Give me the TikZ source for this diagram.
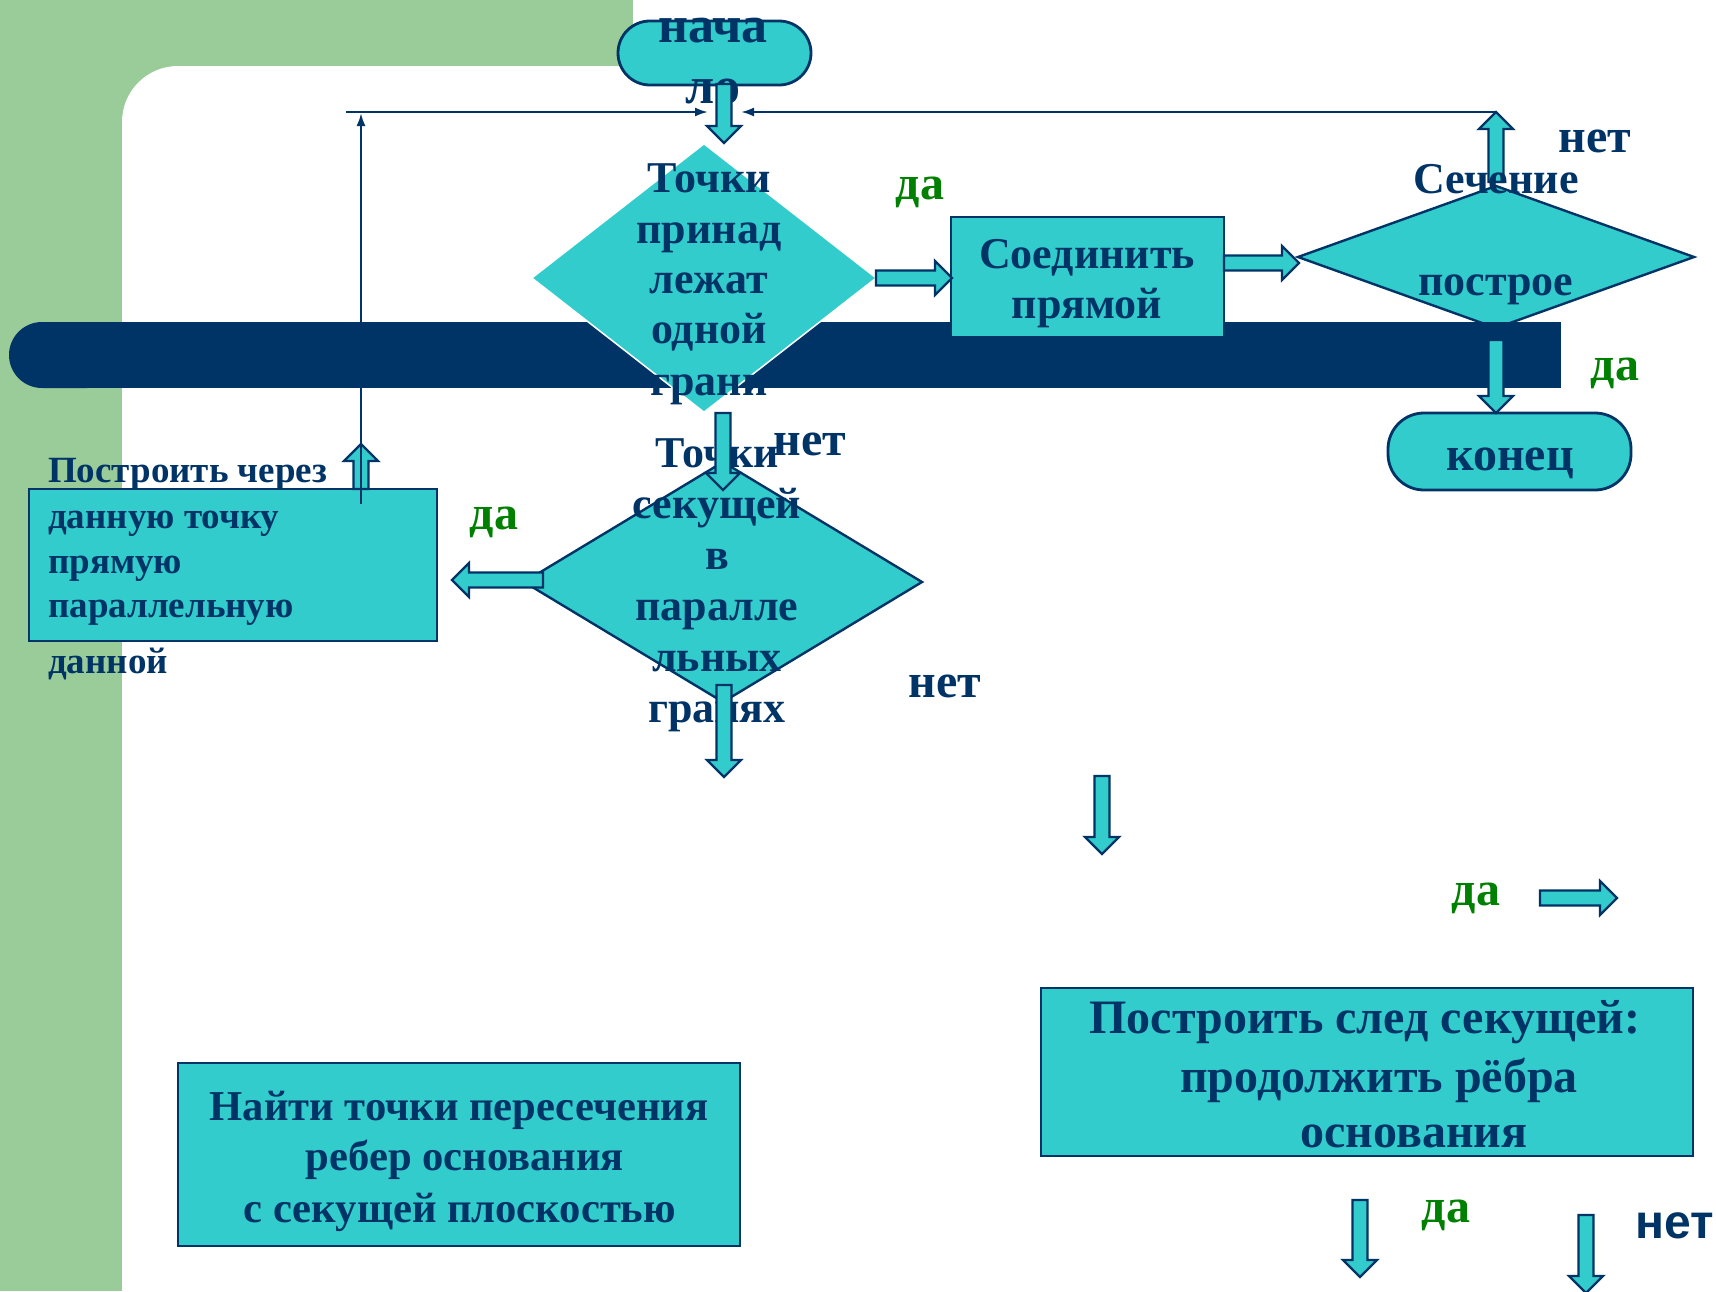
\documentclass[tikz,border=0pt]{standalone}
\usepackage{fontspec}
\setmainfont{Liberation Serif}
\newfontfamily\sansfam{Liberation Sans}
\usetikzlibrary{shapes.geometric,arrows.meta,calc}
\definecolor{turq}{HTML}{33CCCC}
\definecolor{navy}{HTML}{003366}
\definecolor{bggreen}{HTML}{99CC99}
\definecolor{lblgreen}{HTML}{008000}
\newcommand{\blkdown}[2]{\draw[blk] let \p1=(#1),\p2=(#2) in (\x1-7.5pt,\y1) -- (\x1-7.5pt,\y2+17pt) -- (\x1-17pt,\y2+17pt) -- (\x1,\y2) -- (\x1+17pt,\y2+17pt) -- (\x1+7.5pt,\y2+17pt) -- (\x1+7.5pt,\y1) -- cycle;}
\newcommand{\blkup}[2]{\draw[blk] let \p1=(#1),\p2=(#2) in (\x1-7.5pt,\y1) -- (\x1-7.5pt,\y2-17pt) -- (\x1-17pt,\y2-17pt) -- (\x1,\y2) -- (\x1+17pt,\y2-17pt) -- (\x1+7.5pt,\y2-17pt) -- (\x1+7.5pt,\y1) -- cycle;}
\newcommand{\blkright}[2]{\draw[blk] let \p1=(#1),\p2=(#2) in (\x1,\y1-7.5pt) -- (\x2-17pt,\y1-7.5pt) -- (\x2-17pt,\y1-17pt) -- (\x2,\y1) -- (\x2-17pt,\y1+17pt) -- (\x2-17pt,\y1+7.5pt) -- (\x1,\y1+7.5pt) -- cycle;}
\newcommand{\blkleft}[2]{\draw[blk] let \p1=(#1),\p2=(#2) in (\x1,\y1-7.5pt) -- (\x2+17pt,\y1-7.5pt) -- (\x2+17pt,\y1-17pt) -- (\x2,\y1) -- (\x2+17pt,\y1+17pt) -- (\x2+17pt,\y1+7.5pt) -- (\x1,\y1+7.5pt) -- cycle;}
\tikzset{
  blk/.style={fill=turq, draw=navy, line width=2.2pt, line join=miter},
  shp/.style={fill=turq, draw=navy, line width=2.8pt, inner sep=0pt, outer sep=0pt},
  txt/.style={text=navy, inner sep=0pt, anchor=base, font=\bfseries\fontsize{44pt}{50pt}\selectfont},
  txtmid/.style={text=navy, inner sep=0pt, anchor=base, font=\bfseries\fontsize{42.6pt}{50pt}\selectfont},
  txtsmall/.style={text=navy, inner sep=0pt, anchor=base west, font=\bfseries\fontsize{37pt}{44pt}\selectfont},
  txtbig/.style={text=navy, inner sep=0pt, anchor=base, font=\bfseries\fontsize{48pt}{56pt}\selectfont},
  txtstart/.style={text=navy, inner sep=0pt, anchor=base, font=\bfseries\fontsize{52pt}{60pt}\selectfont},
  lab/.style={inner sep=0pt, anchor=base, font=\bfseries\fontsize{48pt}{56pt}\selectfont},
  labsans/.style={inner sep=0pt, anchor=base, text=navy, font=\sansfam\bfseries\fontsize{48pt}{56pt}\selectfont},
  fb/.style={draw=navy, line width=2.2pt, -{Latex[length=13pt,width=9pt]}}
}
\begin{document}
\begin{tikzpicture}[x=1pt,y=-1pt]
\useasboundingbox (0,0) rectangle (1716,1291);
% background
\fill[white] (0,0) rectangle (1716,1291);
\fill[bggreen] (0,0) rectangle (633,66);
\fill[bggreen] (0,0) rectangle (122,1291);
\fill[bggreen] (122,66) rectangle (220,170);
\fill[white, rounded corners=56pt] (122,1400) -- (122,66) -- (900,66) -- (900,1400) -- cycle;

% coordinates for connectors
\coordinate (a1s) at (724,84);   \coordinate (a1e) at (724,143);
\coordinate (a2s) at (876,278);  \coordinate (a2e) at (952,278);
\coordinate (a3s) at (1224,263); \coordinate (a3e) at (1299,263);
\coordinate (a4s) at (1496,182); \coordinate (a4e) at (1496,112);
\coordinate (a5s) at (1496,340); \coordinate (a5e) at (1496,413);
\coordinate (a6s) at (723,413);  \coordinate (a6e) at (723,490);
\coordinate (a7s) at (543,580);  \coordinate (a7e) at (452,580);
\coordinate (a8s) at (361,489);  \coordinate (a8e) at (361,444);
\coordinate (a9s) at (724,685);  \coordinate (a9e) at (724,777);
\coordinate (a10s) at (1102,776); \coordinate (a10e) at (1102,854);
\coordinate (a11s) at (1540,898); \coordinate (a11e) at (1617,898);
\coordinate (a12s) at (1360,1200); \coordinate (a12e) at (1360,1277);
\coordinate (a13s) at (1586,1215); \coordinate (a13e) at (1586,1293);
\coordinate (l1s) at (346,112);  \coordinate (l1e) at (708,112);
\coordinate (l2s) at (1496,112); \coordinate (l2e) at (741,112);
\coordinate (l3s) at (361,504);  \coordinate (l3e) at (361,113);

% decision 2 (partly under the bar)
\node[shp, diamond, line width=2.4pt, minimum width=396pt, minimum height=142pt] (d2) at (1496,257) {};
\blkup{a4s}{a4e}
\node[txt] (d2t1) at (1496,193) {Сечение};
\node[txt] (d2t2) at (1496,295) {построе};
\node[txt] (d2t3) at (1496,346) {но};

% navy bar
\fill[navy, rounded corners=33pt] (120,322) -- (9,322) -- (9,388) -- (120,388) -- cycle;
\fill[navy] (80,322) rectangle (1561,388);

% shapes
\node[shp, rounded corners=32pt, minimum width=193pt, minimum height=64pt] (start) at (714.5,53) {};
\node[diamond, fill=turq, draw=white, line width=1.5pt, inner sep=0pt, minimum width=345pt, minimum height=269pt] (d1) at (704,278) {};
\node[shp, minimum width=273pt, minimum height=120pt] (b1) at (1087.5,277) {};
\node[shp, rounded corners=36pt, minimum width=243pt, minimum height=77pt] (fin) at (1509.5,451.5) {};
\node[shp, diamond, line width=2.4pt, minimum width=398pt, minimum height=240pt] (d3) at (723,582) {};
\node[shp, minimum width=408pt, minimum height=152pt] (b2) at (233,565) {};
\node[shp, minimum width=652pt, minimum height=168pt] (b3) at (1367,1072) {};
\node[shp, minimum width=562pt, minimum height=183pt] (b4) at (459,1154.5) {};

% texts
\node[txtstart] (st1) at (713,42) {нача};
\node[txtstart] (st2) at (713,103) {ло};
\node[txt] (d1t1) at (709,192) {Точки};
\node[txt] (d1t2) at (709,243) {принад};
\node[txt] (d1t3) at (709,293) {лежат};
\node[txt] (d1t4) at (709,343) {одной};
\node[txt] (d1t5) at (709,395) {грани};
\node[txt] (b1t1) at (1087,268) {Соединить};
\node[txt] (b1t2) at (1087,318) {прямой};
\node[txtbig] (fint) at (1510,470) {конец};
\node[txt] (d3t1) at (717,467) {Точки};
\node[txt] (d3t2) at (717,518) {секущей};
\node[txt] (d3t3) at (717,569) {в};
\node[txt] (d3t4) at (717,620) {паралле};
\node[txt] (d3t5) at (717,671) {льных};
\node[txt] (d3t6) at (717,722) {гранях};
\node[txtsmall] (b2t1) at (48,482) {Построить через};
\node[txtsmall] (b2t2) at (48,528) {данную точку};
\node[txtsmall] (b2t3) at (48,573) {прямую};
\node[txtsmall] (b2t4) at (48,617) {параллельную};
\node[txtsmall] (b2t5) at (48,673) {данной};
\node[txtbig] (b3t1) at (1365,1033) {Построить след секущей:};
\node[txtbig] (b3t2) at (1379,1092) {продолжить рёбра};
\node[txtbig] (b3t3) at (1414,1147) {основания};
\node[txtmid] (b4t1) at (459,1120) {Найти точки пересечения};
\node[txtmid] (b4t2) at (465,1170) {ребер основания};
\node[txtmid] (b4t3) at (460,1222) {с секущей плоскостью};

% labels
\node[lab, text=lblgreen] (da1) at (920,199) {да};
\node[lab, text=navy] (net1) at (1595,152) {нет};
\node[lab, text=lblgreen] (da2) at (1615,380) {да};
\node[lab, text=navy] (net2) at (810,455) {нет};
\node[lab, text=lblgreen] (da3) at (494,529) {да};
\node[lab, text=navy] (net3) at (945,697) {нет};
\node[lab, text=lblgreen] (da4) at (1476,905) {да};
\node[lab, text=lblgreen] (da5) at (1446,1222) {да};
\node[labsans] (net4) at (1675,1238) {нет};

% block arrows
\blkdown{a1s}{a1e}
\blkright{a2s}{a2e}
\blkright{a3s}{a3e}
\blkdown{a5s}{a5e}
\blkdown{a6s}{a6e}
\blkleft{a7s}{a7e}
\blkup{a8s}{a8e}
\blkdown{a9s}{a9e}
\blkdown{a10s}{a10e}
\blkright{a11s}{a11e}
\blkdown{a12s}{a12e}
\blkdown{a13s}{a13e}

% feedback lines
\draw[fb] (l1s) -- (l1e);
\draw[fb] (l2s) -- (l2e);
\draw[fb] (l3s) -- (l3e);
\end{tikzpicture}
\end{document}
